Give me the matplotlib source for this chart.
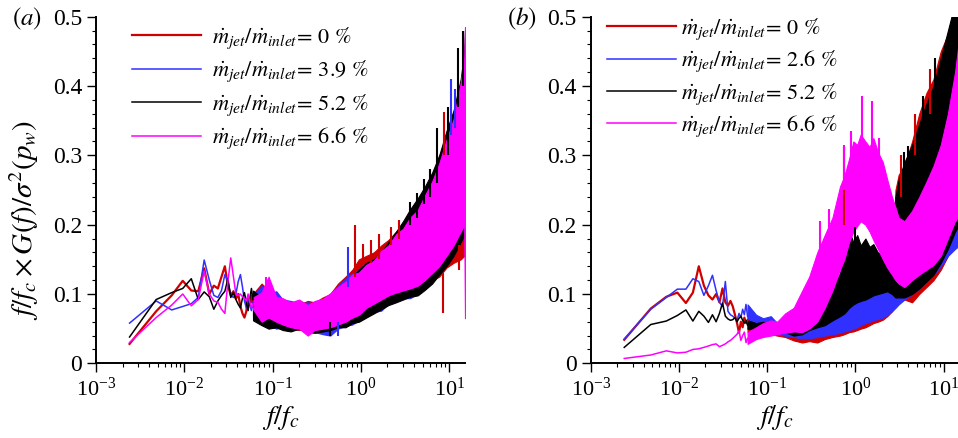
import matplotlib
matplotlib.use('Agg')
import matplotlib.pyplot as plt
from matplotlib.ticker import MultipleLocator, LogLocator, FuncFormatter, LogFormatterMathtext

plt.rcParams['font.family'] = ['Liberation Serif', 'DejaVu Serif']
plt.rcParams['mathtext.fontset'] = 'stix'

# low-frequency part, individual points (f / f_c)
f_lo = [0.0024, 0.0048, 0.0072, 0.0096, 0.012, 0.0144, 0.0168, 0.0192, 0.0216, 0.024,
        0.0264, 0.0288, 0.0312, 0.0336, 0.036, 0.0384, 0.0408, 0.0432, 0.0456, 0.048,
        0.0504, 0.0528, 0.0552, 0.0576, 0.06]

# panel (a) low-frequency values
a_red_lo = [0.028, 0.075, 0.098, 0.119, 0.105, 0.104, 0.137, 0.100, 0.112, 0.108,
            0.125, 0.140, 0.112, 0.098, 0.104, 0.093, 0.100, 0.082, 0.072, 0.066,
            0.075, 0.095, 0.085, 0.098, 0.082]
a_blue_lo = [0.058, 0.090, 0.077, 0.082, 0.086, 0.095, 0.149, 0.120, 0.098, 0.095,
             0.105, 0.128, 0.118, 0.098, 0.095, 0.100, 0.118, 0.128, 0.110, 0.090,
             0.080, 0.092, 0.084, 0.076, 0.088]
a_black_lo = [0.038, 0.092, 0.102, 0.108, 0.122, 0.092, 0.103, 0.096, 0.078, 0.090,
              0.098, 0.104, 0.122, 0.095, 0.102, 0.092, 0.085, 0.080, 0.094, 0.102,
              0.088, 0.076, 0.094, 0.108, 0.092]
a_mag_lo = [0.030, 0.066, 0.084, 0.100, 0.083, 0.092, 0.133, 0.100, 0.090, 0.088,
            0.078, 0.072, 0.118, 0.152, 0.125, 0.100, 0.098, 0.100, 0.096, 0.094,
            0.090, 0.100, 0.088, 0.080, 0.086]

# panel (b) low-frequency values
b_red_lo = [0.034, 0.079, 0.096, 0.102, 0.087, 0.102, 0.140, 0.112, 0.098, 0.092,
            0.100, 0.088, 0.108, 0.088, 0.083, 0.090, 0.082, 0.070, 0.058, 0.044,
            0.060, 0.052, 0.066, 0.058, 0.062]
b_blue_lo = [0.035, 0.078, 0.095, 0.107, 0.107, 0.122, 0.118, 0.098, 0.112, 0.127,
             0.105, 0.088, 0.082, 0.118, 0.075, 0.070, 0.068, 0.065, 0.062, 0.072,
             0.066, 0.078, 0.070, 0.085, 0.068]
b_black_lo = [0.023, 0.056, 0.061, 0.069, 0.077, 0.061, 0.075, 0.068, 0.059, 0.070,
              0.060, 0.072, 0.087, 0.068, 0.064, 0.062, 0.063, 0.066, 0.060, 0.065,
              0.068, 0.062, 0.058, 0.062, 0.055]
b_mag_lo = [0.007, 0.012, 0.018, 0.015, 0.016, 0.020, 0.021, 0.023, 0.025, 0.027,
            0.028, 0.024, 0.026, 0.028, 0.031, 0.033, 0.036, 0.039, 0.042, 0.047,
            0.033, 0.040, 0.045, 0.030, 0.036]

# high-frequency dense part: envelopes (lower / upper) of the oscillating spectra
f_band_a = [0.06, 0.075, 0.09, 0.11, 0.13, 0.16, 0.2, 0.25, 0.3, 0.37, 0.45, 0.55, 0.67,
            0.8, 0.95, 1.15, 1.4, 1.7, 2.05, 2.5, 3.0, 3.6, 4.4, 5.3, 6.4, 7.7, 9.3,
            11.2, 13.5, 14.8, 15.1]
a_red_hi = [0.100, 0.115, 0.105, 0.095, 0.092, 0.088, 0.085, 0.090, 0.088, 0.095, 0.100,
            0.115, 0.125, 0.135, 0.150, 0.155, 0.160, 0.170, 0.178, 0.190, 0.200, 0.212,
            0.224, 0.240, 0.265, 0.300, 0.310, 0.350, 0.385, 0.420, 0.460]
a_red_bot = [0.070, 0.062, 0.058, 0.055, 0.052, 0.050, 0.048, 0.050, 0.046, 0.044, 0.047,
             0.052, 0.056, 0.060, 0.064, 0.070, 0.076, 0.080, 0.088, 0.092, 0.096, 0.100,
             0.104, 0.110, 0.120, 0.125, 0.138, 0.145, 0.150, 0.155, 0.155]
a_blue_hi = [0.098, 0.112, 0.100, 0.104, 0.092, 0.090, 0.086, 0.088, 0.086, 0.092, 0.100,
             0.112, 0.122, 0.130, 0.135, 0.145, 0.150, 0.160, 0.170, 0.182, 0.195, 0.205,
             0.220, 0.235, 0.255, 0.285, 0.320, 0.350, 0.380, 0.400, 0.420]
a_blue_bot = [0.068, 0.058, 0.055, 0.050, 0.052, 0.048, 0.050, 0.046, 0.045, 0.042, 0.040,
              0.050, 0.054, 0.056, 0.062, 0.068, 0.074, 0.076, 0.086, 0.090, 0.094, 0.094,
              0.100, 0.108, 0.118, 0.130, 0.142, 0.158, 0.178, 0.185, 0.185]
a_black_hi = [0.105, 0.095, 0.098, 0.090, 0.088, 0.086, 0.084, 0.082, 0.085, 0.090, 0.098,
              0.108, 0.118, 0.125, 0.135, 0.145, 0.150, 0.160, 0.175, 0.190, 0.205, 0.222,
              0.238, 0.255, 0.275, 0.300, 0.335, 0.365, 0.410, 0.450, 0.480]
a_black_bot = [0.062, 0.055, 0.050, 0.052, 0.048, 0.046, 0.050, 0.045, 0.044, 0.046, 0.048,
               0.052, 0.052, 0.058, 0.060, 0.066, 0.072, 0.078, 0.084, 0.088, 0.092, 0.096,
               0.098, 0.106, 0.115, 0.128, 0.140, 0.155, 0.175, 0.185, 0.185]
a_mag_hi = [0.095, 0.102, 0.125, 0.096, 0.094, 0.088, 0.092, 0.084, 0.090, 0.093, 0.101,
            0.110, 0.118, 0.128, 0.131, 0.142, 0.148, 0.162, 0.170, 0.186, 0.194, 0.210,
            0.221, 0.242, 0.262, 0.288, 0.322, 0.352, 0.405, 0.440, 0.485]
a_mag_bot = [0.078, 0.060, 0.066, 0.060, 0.056, 0.052, 0.050, 0.040, 0.048, 0.050, 0.052,
             0.056, 0.060, 0.066, 0.070, 0.080, 0.086, 0.092, 0.098, 0.102, 0.105, 0.108,
             0.112, 0.120, 0.130, 0.140, 0.155, 0.170, 0.190, 0.200, 0.065]

# single tall peaks standing out of the dense part (f, bottom, top)
a_red_spk = [(0.85, 0.125, 0.200), (1.05, 0.140, 0.172), (1.3, 0.145, 0.178),
             (1.6, 0.150, 0.186), (2.2, 0.170, 0.196), (2.7, 0.180, 0.207),
             (8.8, 0.300, 0.363), (8.5, 0.072, 0.130), (12.8, 0.135, 0.170)]
a_blue_spk = [(0.71, 0.110, 0.168), (10.4, 0.330, 0.410), (11.5, 0.340, 0.395),
              (0.55, 0.040, 0.060)]
a_black_spk = [(3.6, 0.200, 0.232), (4.3, 0.210, 0.245), (5.2, 0.230, 0.266),
               (6.0, 0.240, 0.280), (7.2, 0.260, 0.340), (9.6, 0.300, 0.370),
               (12.7, 0.370, 0.455), (14.5, 0.400, 0.480), (0.45, 0.040, 0.060)]
a_mag_spk = [(0.085, 0.090, 0.125)]

f_band_b = [0.06, 0.075, 0.09, 0.11, 0.13, 0.16, 0.2, 0.25, 0.3, 0.37, 0.45, 0.55, 0.67,
            0.75, 0.85, 0.95, 1.05, 1.15, 1.3, 1.45, 1.6, 1.8, 2.05, 2.3, 2.6, 2.85, 3.1,
            3.6, 4.4, 5.3, 6.4, 7.7, 9.3, 11.2, 13.5, 15.1]
b_red_hi = [0.070, 0.062, 0.058, 0.060, 0.052, 0.050, 0.048, 0.050, 0.052, 0.055, 0.060,
            0.065, 0.072, 0.078, 0.085, 0.088, 0.090, 0.095, 0.098, 0.100, 0.105, 0.108,
            0.112, 0.118, 0.125, 0.250, 0.272, 0.285, 0.320, 0.360, 0.390, 0.410, 0.450,
            0.475, 0.520, 0.540]
b_red_bot = [0.045, 0.048, 0.045, 0.042, 0.040, 0.038, 0.033, 0.030, 0.032, 0.030, 0.035,
             0.038, 0.040, 0.042, 0.045, 0.046, 0.048, 0.050, 0.052, 0.055, 0.058, 0.060,
             0.063, 0.068, 0.075, 0.085, 0.090, 0.092, 0.088, 0.100, 0.110, 0.120, 0.135,
             0.155, 0.180, 0.190]
b_blue_hi = [0.085, 0.070, 0.065, 0.068, 0.058, 0.055, 0.052, 0.055, 0.058, 0.060, 0.062,
             0.070, 0.078, 0.082, 0.088, 0.092, 0.098, 0.100, 0.105, 0.108, 0.112, 0.115,
             0.118, 0.120, 0.122, 0.200, 0.240, 0.260, 0.290, 0.320, 0.350, 0.380, 0.410,
             0.440, 0.480, 0.500]
b_blue_bot = [0.050, 0.048, 0.046, 0.044, 0.042, 0.040, 0.038, 0.036, 0.036, 0.038, 0.040,
              0.042, 0.044, 0.046, 0.048, 0.050, 0.052, 0.055, 0.058, 0.060, 0.062, 0.064,
              0.066, 0.070, 0.075, 0.080, 0.085, 0.092, 0.100, 0.108, 0.118, 0.128, 0.140,
              0.155, 0.165, 0.170]
b_black_hi = [0.062, 0.058, 0.060, 0.055, 0.052, 0.055, 0.060, 0.068, 0.072, 0.085, 0.095,
              0.110, 0.130, 0.165, 0.190, 0.175, 0.185, 0.170, 0.180, 0.168, 0.172, 0.160,
              0.155, 0.145, 0.135, 0.240, 0.265, 0.290, 0.315, 0.345, 0.375, 0.400, 0.440,
              0.480, 0.520, 0.540]
b_black_bot = [0.050, 0.048, 0.045, 0.045, 0.042, 0.045, 0.040, 0.042, 0.048, 0.052, 0.055,
               0.062, 0.068, 0.072, 0.080, 0.085, 0.088, 0.090, 0.092, 0.095, 0.098, 0.100,
               0.102, 0.104, 0.100, 0.095, 0.095, 0.095, 0.100, 0.108, 0.118, 0.128, 0.145,
               0.165, 0.190, 0.200]
b_mag_hi = [0.045, 0.052, 0.058, 0.062, 0.060, 0.072, 0.080, 0.105, 0.125, 0.160, 0.185,
            0.210, 0.255, 0.270, 0.295, 0.320, 0.315, 0.330, 0.320, 0.312, 0.325, 0.305,
            0.290, 0.265, 0.240, 0.225, 0.210, 0.205, 0.220, 0.240, 0.262, 0.285, 0.315,
            0.360, 0.420, 0.470]
b_mag_bot = [0.028, 0.035, 0.038, 0.040, 0.042, 0.044, 0.046, 0.045, 0.050, 0.060, 0.080,
             0.105, 0.135, 0.150, 0.175, 0.190, 0.198, 0.205, 0.200, 0.190, 0.178, 0.165,
             0.150, 0.138, 0.128, 0.120, 0.115, 0.110, 0.120, 0.128, 0.135, 0.142, 0.155,
             0.180, 0.205, 0.215]

b_red_spk = [(0.75, 0.200, 0.312), (4.8, 0.300, 0.360), (7.0, 0.360, 0.425),
             (3.3, 0.240, 0.300)]
b_blue_spk = []
b_black_spk = [(4.0, 0.280, 0.313), (5.9, 0.330, 0.385), (8.0, 0.380, 0.440),
               (1.0, 0.150, 0.196), (3.6, 0.260, 0.305)]
b_mag_spk = [(0.75, 0.250, 0.315), (0.9, 0.280, 0.335), (1.2, 0.300, 0.386),
             (1.55, 0.300, 0.378), (0.4, 0.150, 0.205), (0.5, 0.170, 0.222),
             (1.85, 0.280, 0.325)]

colors = ['#d00000', '#3030ff', 'black', '#ff00ff']
widths = [1.6, 1.1, 1.1, 1.1]
labels_a = ['0', '3.9', '5.2', '6.6']
labels_b = ['0', '2.6', '5.2', '6.6']


def legend_text(v):
    return r'$\dot{m}_{jet}/\dot{m}_{inlet}\!=\,' + v + r'\ \%$'


def draw_panel(ax, lows, f_band, bands, spikes, labels):
    for i in range(4):
        ax.plot(f_lo, lows[i], color=colors[i], lw=widths[i], label=legend_text(labels[i]))
        bot, hi = bands[i]
        ax.fill_between(f_band, bot, hi, color=colors[i], lw=0.8)
        if spikes[i]:
            sf, sb, st = zip(*spikes[i])
            ax.vlines(sf, sb, st, color=colors[i], lw=1.5)
    ax.set_xscale('log')
    ax.set_xlim(1e-3, 15.1)
    ax.set_ylim(0, 0.5)
    ax.yaxis.set_major_locator(MultipleLocator(0.1))
    ax.yaxis.set_minor_locator(MultipleLocator(0.02))
    ax.yaxis.set_major_formatter(FuncFormatter(lambda v, p: '%g' % round(v, 2)))
    ax.xaxis.set_major_locator(LogLocator(base=10, numticks=10))
    ax.xaxis.set_minor_locator(LogLocator(base=10, subs=range(2, 10), numticks=20))
    ax.xaxis.set_major_formatter(LogFormatterMathtext())
    ax.tick_params(which='major', direction='out', length=6.5, width=1.0)
    ax.tick_params(which='minor', direction='out', length=3.2, width=0.8)
    ax.tick_params(axis='y', labelsize=17)
    ax.tick_params(axis='x', labelsize=16, pad=4)
    ax.spines['top'].set_visible(False)
    ax.spines['right'].set_visible(False)
    for s in ['left', 'bottom']:
        ax.spines[s].set_linewidth(1.4)
    ax.set_xlabel(r'$f/f_c$', fontsize=20)
    ax.xaxis.set_label_coords(0.5, -0.115)


fig = plt.figure(figsize=(9.58, 4.38), dpi=100)
ax1 = fig.add_axes([0.1002, 0.1705, 0.3852, 0.7914])
ax2 = fig.add_axes([0.6166, 0.1705, 0.3848, 0.7914])

draw_panel(ax1, [a_red_lo, a_blue_lo, a_black_lo, a_mag_lo], f_band_a,
           [(a_red_bot, a_red_hi), (a_blue_bot, a_blue_hi),
            (a_black_bot, a_black_hi), (a_mag_bot, a_mag_hi)],
           [a_red_spk, a_blue_spk, a_black_spk, a_mag_spk], labels_a)
draw_panel(ax2, [b_red_lo, b_blue_lo, b_black_lo, b_mag_lo], f_band_b,
           [(b_red_bot, b_red_hi), (b_blue_bot, b_blue_hi),
            (b_black_bot, b_black_hi), (b_mag_bot, b_mag_hi)],
           [b_red_spk, b_blue_spk, b_black_spk, b_mag_spk], labels_b)

ax1.set_ylabel(r'$f/f_c \times G(f)/\sigma^2(p_w)$', fontsize=21)
ax1.yaxis.set_label_coords(-0.148, 0.413)

ax1.legend(loc='upper left', bbox_to_anchor=(0.098, 0.975), frameon=False, fontsize=16,
           handlelength=3.1, handletextpad=0.5, labelspacing=0.36, borderpad=0,
           borderaxespad=0)
ax2.legend(loc='upper left', bbox_to_anchor=(0.045, 1.0), frameon=False, fontsize=16,
           handlelength=3.1, handletextpad=0.22, labelspacing=0.3, borderpad=0,
           borderaxespad=0)

fig.text(12 / 958, 1 - 19 / 438, r'$(a)$', fontsize=18, va='center')
fig.text(507 / 958, 1 - 19 / 438, r'$(b)$', fontsize=18, va='center')

fig.savefig('out.png', dpi=100)
